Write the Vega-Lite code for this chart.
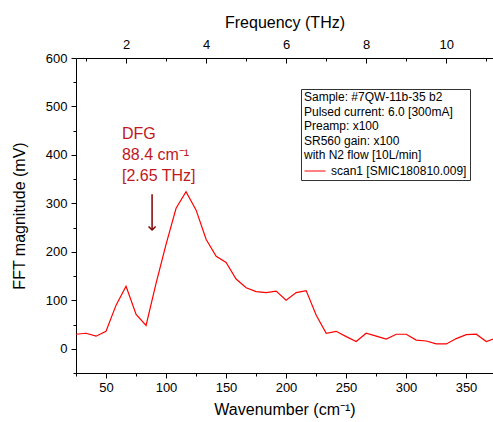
{
  "$schema": "https://vega.github.io/schema/vega-lite/v6.json",
  "width": 417,
  "height": 315,
  "autosize": {"type": "none"},
  "padding": {"left": 76, "top": 58, "right": 0, "bottom": 49},
  "background": "white",
  "config": {
    "font": "Liberation Sans",
    "view": {"stroke": null},
    "axis": {
      "labelFont": "Liberation Sans",
      "titleFont": "Liberation Sans",
      "labelFontSize": 13,
      "titleFontSize": 16,
      "titleFontWeight": "normal",
      "labelColor": "#000",
      "titleColor": "#000",
      "domainColor": "#000",
      "tickColor": "#000",
      "grid": false
    }
  },
  "datasets": {
    "spectrum": [
      {"wn": 25.0, "mag": 30, "series": "scan1 [SMIC180810.009]"},
      {"wn": 33.4, "mag": 32, "series": "scan1 [SMIC180810.009]"},
      {"wn": 41.7, "mag": 26, "series": "scan1 [SMIC180810.009]"},
      {"wn": 50.0, "mag": 36, "series": "scan1 [SMIC180810.009]"},
      {"wn": 58.4, "mag": 90, "series": "scan1 [SMIC180810.009]"},
      {"wn": 66.7, "mag": 129, "series": "scan1 [SMIC180810.009]"},
      {"wn": 75.1, "mag": 71, "series": "scan1 [SMIC180810.009]"},
      {"wn": 83.4, "mag": 48, "series": "scan1 [SMIC180810.009]"},
      {"wn": 91.7, "mag": 135, "series": "scan1 [SMIC180810.009]"},
      {"wn": 100.1, "mag": 216, "series": "scan1 [SMIC180810.009]"},
      {"wn": 108.4, "mag": 290, "series": "scan1 [SMIC180810.009]"},
      {"wn": 116.7, "mag": 324, "series": "scan1 [SMIC180810.009]"},
      {"wn": 125.1, "mag": 286, "series": "scan1 [SMIC180810.009]"},
      {"wn": 133.4, "mag": 226, "series": "scan1 [SMIC180810.009]"},
      {"wn": 141.8, "mag": 191, "series": "scan1 [SMIC180810.009]"},
      {"wn": 150.1, "mag": 178, "series": "scan1 [SMIC180810.009]"},
      {"wn": 158.4, "mag": 144, "series": "scan1 [SMIC180810.009]"},
      {"wn": 166.8, "mag": 126, "series": "scan1 [SMIC180810.009]"},
      {"wn": 175.1, "mag": 118, "series": "scan1 [SMIC180810.009]"},
      {"wn": 183.5, "mag": 116, "series": "scan1 [SMIC180810.009]"},
      {"wn": 191.8, "mag": 119, "series": "scan1 [SMIC180810.009]"},
      {"wn": 200.1, "mag": 100, "series": "scan1 [SMIC180810.009]"},
      {"wn": 208.5, "mag": 116, "series": "scan1 [SMIC180810.009]"},
      {"wn": 216.8, "mag": 120, "series": "scan1 [SMIC180810.009]"},
      {"wn": 225.2, "mag": 69, "series": "scan1 [SMIC180810.009]"},
      {"wn": 233.5, "mag": 32, "series": "scan1 [SMIC180810.009]"},
      {"wn": 241.8, "mag": 36, "series": "scan1 [SMIC180810.009]"},
      {"wn": 250.2, "mag": 25, "series": "scan1 [SMIC180810.009]"},
      {"wn": 258.5, "mag": 15, "series": "scan1 [SMIC180810.009]"},
      {"wn": 266.8, "mag": 32, "series": "scan1 [SMIC180810.009]"},
      {"wn": 275.2, "mag": 26, "series": "scan1 [SMIC180810.009]"},
      {"wn": 283.5, "mag": 20, "series": "scan1 [SMIC180810.009]"},
      {"wn": 291.9, "mag": 30, "series": "scan1 [SMIC180810.009]"},
      {"wn": 300.2, "mag": 30, "series": "scan1 [SMIC180810.009]"},
      {"wn": 308.5, "mag": 18, "series": "scan1 [SMIC180810.009]"},
      {"wn": 316.9, "mag": 16, "series": "scan1 [SMIC180810.009]"},
      {"wn": 325.2, "mag": 10, "series": "scan1 [SMIC180810.009]"},
      {"wn": 333.6, "mag": 10, "series": "scan1 [SMIC180810.009]"},
      {"wn": 341.9, "mag": 21, "series": "scan1 [SMIC180810.009]"},
      {"wn": 350.2, "mag": 29, "series": "scan1 [SMIC180810.009]"},
      {"wn": 358.6, "mag": 30, "series": "scan1 [SMIC180810.009]"},
      {"wn": 366.9, "mag": 15, "series": "scan1 [SMIC180810.009]"},
      {"wn": 375.3, "mag": 22, "series": "scan1 [SMIC180810.009]"}
    ],
    "arrow": [
      {"wn": 88.4, "top": 319, "tip": 245}
    ],
    "notes": [
      {"wn": 63.3, "mag": 443, "label": "DFG"},
      {"wn": 63.3, "mag": 400, "label": "88.4 cm⁻¹"},
      {"wn": 63.3, "mag": 356, "label": "[2.65 THz]"}
    ]
  },
  "resolve": {
    "scale": {"x": "shared", "y": "shared"},
    "axis": {"x": "independent", "y": "independent"}
  },
  "layer": [
    {
      "data": {"name": "spectrum"},
      "mark": {"type": "line", "strokeWidth": 1.2, "clip": true},
      "encoding": {
        "x": {
          "field": "wn", "type": "quantitative",
          "scale": {"domain": [25, 372.5], "nice": false, "zero": false},
          "axis": {"orient": "bottom", "values": [50, 100, 150, 200, 250, 300, 350], "title": "Wavenumber (cm⁻¹)", "tickSize": 5, "labelPadding": 3, "titlePadding": 7, "labelFlush": false}
        },
        "y": {
          "field": "mag", "type": "quantitative",
          "scale": {"domain": [-50, 600], "nice": false, "zero": false},
          "axis": {"orient": "left", "values": [0, 100, 200, 300, 400, 500, 600], "title": "FFT magnitude (mV)", "tickSize": 5, "labelPadding": 4, "titlePadding": 18, "labelFlush": false}
        },
        "color": {
          "field": "series", "type": "nominal",
          "scale": {"range": ["#ff0000"]},
          "legend": {
            "title": ["Sample: #7QW-11b-35 b2", "Pulsed current: 6.0 [300mA]", "Preamp: x100", "SR560 gain: x100", "with N2 flow [10L/min]"],
            "orient": "none", "legendX": 225, "legendY": 31,
            "symbolType": "stroke", "symbolSize": 441, "symbolStrokeWidth": 1,
            "strokeColor": "#333", "fillColor": "white", "padding": 3,
            "titleFontSize": 12, "titleFontWeight": "normal", "titleLineHeight": 14.5,
            "titlePadding": -2, "titleLimit": 400, "titleColor": "#000",
            "labelFontSize": 12, "labelLimit": 400, "labelOffset": 5, "labelColor": "#000"
          }
        }
      }
    },
    {
      "data": {"name": "spectrum"},
      "mark": {"type": "line", "strokeOpacity": 0},
      "encoding": {
        "x": {
          "field": "wn", "type": "quantitative",
          "axis": {"orient": "bottom", "values": [25, 75, 125, 175, 225, 275, 325, 375], "labels": false, "title": null, "tickSize": 3, "domain": false}
        },
        "y": {
          "field": "mag", "type": "quantitative",
          "axis": {"orient": "left", "values": [-50, 50, 150, 250, 350, 450, 550], "labels": false, "title": null, "tickSize": 3, "domain": false}
        }
      }
    },
    {
      "data": {"name": "arrow"},
      "mark": {"type": "rule", "color": "#800000", "strokeWidth": 1.5},
      "encoding": {
        "x": {
          "field": "wn", "type": "quantitative",
          "axis": {"orient": "top", "values": [66.71, 133.43, 200.14, 266.85, 333.56], "labelExpr": "format(datum.value/33.3564, '.0f')", "title": "Frequency (THz)", "tickSize": -5, "labelPadding": 12, "titlePadding": 8, "labelFlush": false}
        },
        "y": {"field": "top", "type": "quantitative", "axis": null},
        "y2": {"field": "tip"}
      }
    },
    {
      "data": {"name": "arrow"},
      "mark": {"type": "point", "shape": "M-1,-1L0,0L1,-1", "filled": false, "color": "#800000", "strokeWidth": 1.5, "size": 50, "opacity": 1},
      "encoding": {
        "x": {
          "field": "wn", "type": "quantitative",
          "axis": {"orient": "top", "values": [33.36, 100.07, 166.78, 233.49, 300.21, 366.92], "labels": false, "title": null, "tickSize": -3, "domain": false}
        },
        "y": {"field": "tip", "type": "quantitative", "axis": null}
      }
    },
    {
      "data": {"name": "notes"},
      "mark": {"type": "text", "align": "left", "baseline": "middle", "fontSize": 16, "color": "#c0181f"},
      "encoding": {
        "x": {"field": "wn", "type": "quantitative", "axis": null},
        "y": {"field": "mag", "type": "quantitative", "axis": null},
        "text": {"field": "label"}
      }
    }
  ]
}
